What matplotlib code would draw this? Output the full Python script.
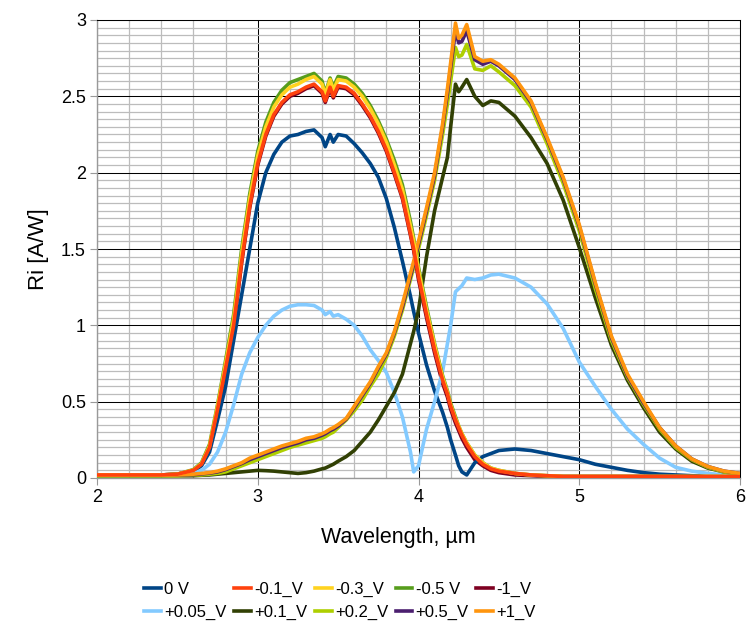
import matplotlib
matplotlib.use("Agg")
import matplotlib.pyplot as plt
from matplotlib.ticker import MultipleLocator

plt.rcParams["font.family"] = ["Liberation Sans", "DejaVu Sans"]

# wavelength grid (um), shared by all series
wl = [2.0, 2.2, 2.4, 2.5, 2.6, 2.65, 2.7, 2.75, 2.8, 2.85,
      2.9, 2.95, 3.0, 3.05, 3.1, 3.15, 3.2, 3.25, 3.3, 3.35,
      3.4, 3.42, 3.45, 3.47, 3.5, 3.55, 3.6, 3.65, 3.7, 3.75,
      3.8, 3.85, 3.9, 3.95, 3.97, 4.0, 4.05, 4.1, 4.15, 4.18,
      4.2, 4.23, 4.25, 4.27, 4.3, 4.35, 4.4, 4.45, 4.5, 4.6,
      4.7, 4.8, 4.9, 5.0, 5.1, 5.2, 5.3, 5.4, 5.5, 5.6,
      5.7, 5.8, 5.9, 6.0]

r_0v = [0.02, 0.02, 0.02, 0.025, 0.045, 0.08, 0.17, 0.38, 0.6, 0.9,
        1.2, 1.5, 1.8, 2.0, 2.12, 2.2, 2.24, 2.25, 2.27, 2.28,
        2.23, 2.17, 2.25, 2.2, 2.25, 2.24, 2.19, 2.13, 2.06, 1.97,
        1.83, 1.64, 1.42, 1.19, 1.09, 0.95, 0.74, 0.57, 0.43, 0.33,
        0.25, 0.15, 0.08, 0.04, 0.02, 0.1, 0.14, 0.16, 0.18, 0.19,
        0.18, 0.16, 0.14, 0.12, 0.09, 0.07, 0.05, 0.035, 0.025, 0.02,
        0.015, 0.01, 0.01, 0.01]

r_m01 = [0.02, 0.02, 0.02, 0.025, 0.05, 0.09, 0.2, 0.45, 0.72, 1.0,
         1.42, 1.78, 2.06, 2.25, 2.38, 2.46, 2.51, 2.53, 2.56, 2.58,
         2.53, 2.47, 2.56, 2.5, 2.57, 2.56, 2.52, 2.45, 2.37, 2.27,
         2.15, 2.0, 1.84, 1.6, 1.5, 1.32, 1.07, 0.84, 0.64, 0.55,
         0.47, 0.38, 0.33, 0.28, 0.22, 0.14, 0.09, 0.06, 0.045, 0.03,
         0.02, 0.015, 0.01, 0.01, 0.01, 0.01, 0.01, 0.01, 0.01, 0.01,
         0.01, 0.01, 0.01, 0.01]

r_m03 = [0.02, 0.02, 0.02, 0.025, 0.052, 0.095, 0.21, 0.47, 0.75, 1.04,
         1.47, 1.83, 2.11, 2.3, 2.43, 2.51, 2.56, 2.58, 2.61, 2.63,
         2.58, 2.51, 2.61, 2.54, 2.61, 2.6, 2.56, 2.5, 2.42, 2.32,
         2.2, 2.05, 1.89, 1.65, 1.55, 1.36, 1.1, 0.87, 0.66, 0.56,
         0.48, 0.39, 0.34, 0.29, 0.23, 0.15, 0.1, 0.065, 0.05, 0.03,
         0.02, 0.015, 0.01, 0.01, 0.01, 0.01, 0.01, 0.01, 0.01, 0.01,
         0.01, 0.01, 0.01, 0.01]

r_m05 = [0.02, 0.02, 0.02, 0.025, 0.055, 0.1, 0.22, 0.48, 0.77, 1.07,
         1.5, 1.86, 2.14, 2.33, 2.46, 2.54, 2.59, 2.61, 2.63, 2.65,
         2.6, 2.52, 2.62, 2.56, 2.63, 2.62, 2.58, 2.52, 2.44, 2.34,
         2.22, 2.08, 1.92, 1.68, 1.57, 1.38, 1.12, 0.88, 0.67, 0.57,
         0.49, 0.4, 0.34, 0.29, 0.23, 0.15, 0.1, 0.065, 0.05, 0.03,
         0.02, 0.015, 0.01, 0.01, 0.01, 0.01, 0.01, 0.01, 0.01, 0.01,
         0.01, 0.01, 0.01, 0.01]

r_m1 = [0.02, 0.02, 0.02, 0.025, 0.048, 0.088, 0.19, 0.44, 0.71, 0.99,
        1.41, 1.77, 2.05, 2.24, 2.37, 2.45, 2.5, 2.52, 2.55, 2.57,
        2.52, 2.46, 2.55, 2.49, 2.56, 2.55, 2.51, 2.44, 2.36, 2.26,
        2.14, 1.99, 1.83, 1.59, 1.49, 1.3, 1.05, 0.82, 0.62, 0.53,
        0.45, 0.36, 0.31, 0.26, 0.2, 0.12, 0.08, 0.05, 0.035, 0.02,
        0.015, 0.01, 0.01, 0.01, 0.01, 0.01, 0.01, 0.01, 0.01, 0.01,
        0.01, 0.01, 0.01, 0.01]

r_p005 = [0.015, 0.015, 0.015, 0.02, 0.03, 0.05, 0.09, 0.17, 0.3, 0.48,
          0.68, 0.82, 0.92, 1.0, 1.06, 1.1, 1.125, 1.135, 1.135, 1.13,
          1.1, 1.07, 1.09, 1.06, 1.07, 1.04, 1.0, 0.93, 0.84, 0.77,
          0.69, 0.56, 0.4, 0.17, 0.04, 0.08, 0.32, 0.5, 0.7, 0.88,
          1.0, 1.22, 1.24, 1.26, 1.31, 1.3, 1.31, 1.33, 1.335, 1.31,
          1.25, 1.14, 0.98, 0.76, 0.6, 0.45, 0.32, 0.22, 0.13, 0.07,
          0.045, 0.03, 0.02, 0.02]

r_p01 = [0.015, 0.015, 0.015, 0.015, 0.015, 0.018, 0.02, 0.025, 0.03, 0.035,
         0.04, 0.045, 0.05, 0.048, 0.045, 0.04, 0.035, 0.03, 0.035, 0.045,
         0.06, 0.065, 0.08, 0.09, 0.11, 0.14, 0.18, 0.24, 0.3, 0.38,
         0.47, 0.56, 0.68, 0.88, 0.96, 1.1, 1.45, 1.75, 1.97, 2.1,
         2.3, 2.58, 2.53, 2.56, 2.61, 2.5, 2.44, 2.47, 2.46, 2.37,
         2.23, 2.06, 1.82, 1.51, 1.18, 0.87, 0.64, 0.46, 0.3, 0.19,
         0.11, 0.065, 0.04, 0.025]

r_p02 = [0.015, 0.015, 0.015, 0.015, 0.02, 0.02, 0.025, 0.03, 0.04, 0.06,
         0.08, 0.1, 0.12, 0.14, 0.16, 0.18, 0.2, 0.215, 0.23, 0.245,
         0.26, 0.27, 0.29, 0.3, 0.33, 0.38, 0.44, 0.51, 0.6, 0.68,
         0.79, 0.93, 1.1, 1.3, 1.38, 1.5, 1.72, 1.95, 2.25, 2.45,
         2.6, 2.82, 2.76, 2.77, 2.84, 2.68, 2.67, 2.7, 2.66, 2.57,
         2.43, 2.19, 1.93, 1.62, 1.24, 0.9, 0.66, 0.48, 0.32, 0.2,
         0.12, 0.07, 0.04, 0.025]

r_p05 = [0.02, 0.02, 0.02, 0.02, 0.022, 0.027, 0.032, 0.04, 0.055, 0.075,
         0.095, 0.12, 0.14, 0.16, 0.18, 0.2, 0.215, 0.23, 0.25, 0.26,
         0.28, 0.29, 0.31, 0.32, 0.34, 0.385, 0.46, 0.54, 0.62, 0.72,
         0.81, 0.95, 1.12, 1.32, 1.4, 1.53, 1.75, 1.98, 2.3, 2.52,
         2.69, 2.93, 2.85, 2.86, 2.93, 2.74, 2.71, 2.73, 2.7, 2.61,
         2.46, 2.22, 1.96, 1.65, 1.27, 0.92, 0.67, 0.49, 0.33, 0.21,
         0.125, 0.075, 0.045, 0.03]

r_p1 = [0.02, 0.02, 0.02, 0.02, 0.025, 0.03, 0.035, 0.045, 0.06, 0.08,
        0.1, 0.13, 0.15, 0.17, 0.19, 0.21, 0.225, 0.24, 0.26, 0.27,
        0.29, 0.3, 0.32, 0.33, 0.35, 0.39, 0.47, 0.55, 0.63, 0.73,
        0.82, 0.96, 1.14, 1.34, 1.42, 1.55, 1.77, 2.0, 2.32, 2.55,
        2.72, 2.98, 2.88, 2.9, 2.97, 2.76, 2.73, 2.74, 2.71, 2.62,
        2.47, 2.23, 1.97, 1.66, 1.28, 0.93, 0.68, 0.5, 0.33, 0.21,
        0.125, 0.075, 0.045, 0.03]

labels = ["0 V", "-0.1_V", "-0.3_V", "-0.5 V", "-1_V",
          "+0.05_V", "+0.1_V", "+0.2_V", "+0.5_V", "+1_V"]
series = [r_0v, r_m01, r_m03, r_m05, r_m1,
          r_p005, r_p01, r_p02, r_p05, r_p1]
colors = ["#004586", "#ff420e", "#ffd320", "#579d1c", "#7e0021",
          "#83caff", "#314004", "#aecf00", "#4b1f6f", "#ff950e"]
# -1 V sits underneath the other short-band curves
zorders = [3, 5, 4, 3.5, 2.5, 3, 3, 3.2, 3.4, 3.6]

fig = plt.figure(figsize=(7.49, 6.23), dpi=100)
ax = fig.add_axes([97 / 749, 145 / 623, 643 / 749, 458 / 623])

handles = []
for y, lab, c, z in zip(series, labels, colors, zorders):
    h, = ax.plot(wl, y, color=c, lw=2.6, label=lab, zorder=z,
                 solid_joinstyle="round")
    handles.append(h)

ax.set_xlim(2, 6)
ax.set_ylim(0, 3)
ax.xaxis.set_major_locator(MultipleLocator(1))
ax.xaxis.set_minor_locator(MultipleLocator(0.2))
ax.yaxis.set_major_locator(MultipleLocator(0.5))
ax.yaxis.set_minor_locator(MultipleLocator(0.05))
ax.grid(which="major", color="black", lw=0.75, zorder=1)
ax.grid(which="minor", color="#bcbcbc", lw=0.9, zorder=0.5)
ax.set_axisbelow(True)

ax.tick_params(which="major", direction="out", length=5, width=0.8,
               color="#999999", labelsize=13, pad=3)
ax.tick_params(which="minor", length=0)
for s in ["left", "bottom"]:
    ax.spines[s].set_color("#999999")
    ax.spines[s].set_linewidth(1.0)
for s in ["top", "right"]:
    ax.spines[s].set_color("black")
    ax.spines[s].set_linewidth(0.75)

ax.set_xticks([2, 3, 4, 5, 6])
ax.set_xticklabels(["2", "3", "4", "5", "6"])
ax.set_yticks([0, 0.5, 1, 1.5, 2, 2.5, 3])
ax.set_yticklabels(["0", "0.5", "1", "1.5", "2", "2.5", "3"])

ax.set_xlabel("Wavelength, µm", fontsize=15.5)
ax.xaxis.set_label_coords((398 - 97) / 643, -49 / 458)
ax.set_ylabel("Ri [A/W]", fontsize=16)
ax.yaxis.set_label_coords(-48 / 643, 0.5)

# legend is laid out row by row (5 per row), matplotlib fills by column
order = [0, 5, 1, 6, 2, 7, 3, 8, 4, 9]
fig.legend([handles[i] for i in order], [labels[i] for i in order],
           loc="center", bbox_to_anchor=(340 / 749, 1 - 601 / 623),
           ncol=5, frameon=False, fontsize=12, handlelength=1.0,
           handletextpad=0.2, columnspacing=0.45, labelspacing=0.5)

fig.savefig("out.png", dpi=100, facecolor="white")
